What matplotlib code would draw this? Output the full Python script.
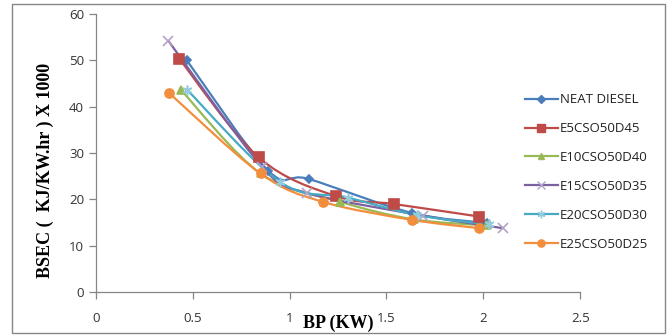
import numpy as np
import matplotlib.pyplot as plt
from matplotlib.path import Path
from matplotlib.patches import PathPatch, Rectangle
from matplotlib.lines import Line2D

# BP (KW) and BSEC (KJ/KW.hr x 1000) for each blend
neat_bp = [0.47, 0.89, 1.10, 1.63, 2.02]
neat_bsec = [50.0, 26.2, 24.4, 17.1, 14.9]

e5_bp = [0.43, 0.84, 1.24, 1.54, 1.98]
e5_bsec = [50.4, 29.1, 20.7, 19.0, 16.3]

e10_bp = [0.44, 0.85, 1.26, 1.64, 2.02]
e10_bsec = [43.6, 25.6, 19.5, 15.7, 14.4]

e15_bp = [0.375, 0.86, 1.09, 1.69, 2.10]
e15_bsec = [54.2, 27.0, 21.4, 16.5, 13.8]

e20_bp = [0.47, 0.95, 1.30, 1.66, 2.03]
e20_bsec = [43.7, 23.8, 20.4, 16.6, 14.6]

e25_bp = [0.38, 0.85, 1.17, 1.63, 1.98]
e25_bsec = [42.9, 25.6, 19.5, 15.6, 13.8]

labels = ['NEAT DIESEL', 'E5CSO50D45', 'E10CSO50D40',
          'E15CSO50D35', 'E20CSO50D30', 'E25CSO50D25']
series = [(neat_bp, neat_bsec), (e5_bp, e5_bsec), (e10_bp, e10_bsec),
          (e15_bp, e15_bsec), (e20_bp, e20_bsec), (e25_bp, e25_bsec)]

colors = ['#4A7EBB', '#BE4B48', '#98B954', '#7D60A0', '#46AAC5', '#F28E3C']
marker_colors = ['#4A7EBB', '#BE4B48', '#98B954', '#B3A2C7', '#93CDDD', '#F28E3C']
markers = ['D', 's', '^', 'x', (6, 2, 0), 'o']
msizes = [4.5, 7, 6, 7, 7, 6.5]


def smooth_path(x, y):
    # excel-style smoothed line: cubic bezier through the points
    pts = np.column_stack([x, y])
    n = len(pts)
    verts = [pts[0]]
    codes = [Path.MOVETO]
    for i in range(n - 1):
        p0 = pts[max(i - 1, 0)]
        p1 = pts[i]
        p2 = pts[i + 1]
        p3 = pts[min(i + 2, n - 1)]
        c1 = p1 + (p2 - p0) / 6.0
        c2 = p2 - (p3 - p1) / 6.0
        verts += [c1, c2, p2]
        codes += [Path.CURVE4] * 3
    return Path(verts, codes)


fig = plt.figure(figsize=(6.7, 3.35), dpi=100)
ax = fig.add_axes([0.143, 0.128, 0.723, 0.83])

for (x, y), c, mc, m, ms in zip(series, colors, marker_colors, markers, msizes):
    ax.add_patch(PathPatch(smooth_path(x, y), facecolor='none',
                           edgecolor=c, lw=1.6, zorder=2))
    ax.plot(x, y, ls='none', marker=m, ms=ms, color=mc, mec=mc,
            mew=1.2, zorder=3)

ax.set_xlim(0, 2.5)
ax.set_ylim(0, 60)
ax.set_xticks(np.arange(0, 2.51, 0.5))
ax.set_xticklabels(['0', '0.5', '1', '1.5', '2', '2.5'])
ax.set_yticks(range(0, 61, 10))

for side in ['top', 'right']:
    ax.spines[side].set_visible(False)
for side in ['left', 'bottom']:
    ax.spines[side].set_color('#868686')
    ax.spines[side].set_linewidth(0.9)
ax.tick_params(colors='#868686', labelcolor='#333333', labelsize=9.5,
               length=5, width=0.9)
ax.tick_params(axis='x', pad=9)
for t in ax.get_xticklabels() + ax.get_yticklabels():
    t.set_family('Open Sans')

fig.text(0.068, 0.49, 'BSEC (  KJ/KW.hr ) X 1000', rotation=90,
         ha='center', va='center', fontsize=13, fontweight='bold',
         family='Liberation Serif')
fig.text(0.505, 0.036, 'BP (KW)', ha='center', va='center',
         fontsize=13, fontweight='bold', family='Liberation Serif')

handles = [Line2D([], [], color=c, lw=1.6, marker=m, ms=ms * 0.8,
                  mfc=mc, mec=mc)
           for c, mc, m, ms in zip(colors, marker_colors, markers, msizes)]
leg = fig.legend(handles, labels, loc='upper left',
                 bbox_to_anchor=(0.775, 0.737), frameon=False,
                 fontsize=9.5, handlelength=2.5, handletextpad=0.2,
                 labelspacing=1.2, borderaxespad=0)
for t in leg.get_texts():
    t.set_family('Open Sans')
    t.set_color('#222222')

fig.add_artist(Rectangle((12 / 670, 2 / 335), 653 / 670, 329 / 335,
                         transform=fig.transFigure, fill=False,
                         edgecolor='#868686', lw=1.0))

fig.savefig('out.png', dpi=100)
